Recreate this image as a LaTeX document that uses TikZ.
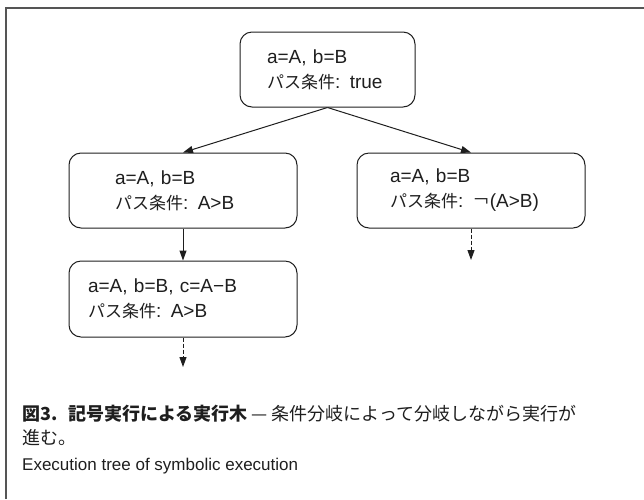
\documentclass[tikz,border=0pt]{standalone}
\usepackage{fontspec}
\setmainfont{Liberation Sans}
\newfontfamily\jp{Noto Sans CJK JP}
\usetikzlibrary{arrows.meta,positioning}
\definecolor{framecolor}{RGB}{85,85,85}
\definecolor{linecolor}{RGB}{30,30,30}
\newcommand{\jpt}[1]{{\jp\fontsize{17pt}{25pt}\selectfont #1}}

\begin{document}
\begin{tikzpicture}[
    x=1pt, y=-1pt,
    state/.style={rectangle, rounded corners=12pt, draw=linecolor, line width=1pt, minimum width=228pt, minimum height=75pt, align=left, inner sep=0pt, text=linecolor, font=\fontsize{19pt}{25pt}\selectfont},
    arrow/.style={line width=1pt, draw=linecolor, ->, >={Triangle[length=10pt,width=7pt]}},
    dasharrow/.style={arrow, dash pattern=on 4pt off 2pt},
    caption/.style={anchor=west, align=left, inner sep=0pt, text=linecolor}
]
\useasboundingbox (0,0) rectangle (644,499);

% Frame
\draw[framecolor, line width=1.5pt] (6,499) -- (6,8) -- (644,8);

% Execution tree
\node[state, minimum width=175pt, text width=121pt] (root) at (327.5,69.5) {a=A, b=B\\\jpt{パス条件}: true};
\node[state, text width=136pt] (truebranch) at (183,190.5) {a=A, b=B\\\jpt{パス条件}: A>B};
\node[state, text width=162pt] (falsebranch) at (471,190.5) {a=A, b=B\\\jpt{パス条件}: \jpt{￢}(A>B)};
\node[state, minimum height=76pt, text width=190pt] (assign) at (183,299) {a=A, b=B, c=A−B\\\jpt{パス条件}: A>B};

% Open ends
\coordinate (falsecont) at (471,260);
\coordinate (assigncont) at (183,367);

% Arrows
\draw[arrow] (root.south) -- (truebranch.north);
\draw[arrow] (root.south) -- (falsebranch.north);
\draw[arrow] (truebranch) -- (assign);
\draw[dasharrow] (falsebranch) -- (falsecont);
\draw[dasharrow] (assign) -- (assigncont);

% Caption
\node[caption, font=\jp\fontsize{18pt}{24pt}\selectfont] (figcap) at (22,425) {{\bfseries 図3.\hspace{0.6em}記号実行による実行木} — 条件分岐によって分岐しながら実行が\\進む。};
\node[caption, font=\fontsize{17pt}{20pt}\selectfont] (entitle) at (22,466) {Execution tree of symbolic execution};

\end{tikzpicture}
\end{document}
